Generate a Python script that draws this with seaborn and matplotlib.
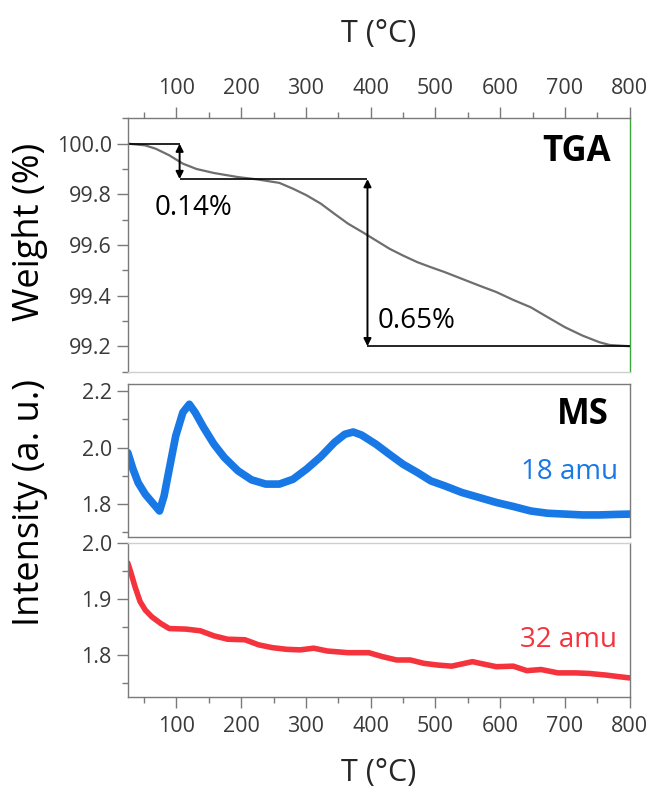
import numpy as np
import pandas as pd
import seaborn as sns
import matplotlib.pyplot as plt
from matplotlib.ticker import MultipleLocator

# TGA trace (temperature in °C, weight in %)
tga_temp = [25, 52, 68, 89, 110, 131, 158, 195, 227, 259, 280, 301, 323, 344, 365,
            387, 408, 429, 450, 472, 493, 514, 541, 567, 594, 620, 647, 673, 700,
            727, 753, 769, 800]
tga_weight = [100.0, 99.993, 99.98, 99.954, 99.921, 99.90, 99.884, 99.868, 99.858,
              99.845, 99.822, 99.796, 99.763, 99.723, 99.684, 99.651, 99.618, 99.585,
              99.558, 99.532, 99.512, 99.493, 99.466, 99.44, 99.414, 99.383, 99.354,
              99.315, 99.275, 99.242, 99.216, 99.205, 99.20]

# MS 18 amu
ms18_temp = [25, 33, 41, 52, 62, 74, 81, 89, 99, 110, 120, 129, 142, 158, 174, 195,
             216, 238, 259, 280, 301, 323, 344, 360, 373, 386, 408, 429, 450, 472,
             493, 514, 541, 567, 594, 620, 647, 673, 700, 727, 753, 780, 800]
ms18_int = [1.982, 1.924, 1.876, 1.835, 1.808, 1.776, 1.829, 1.924, 2.041, 2.124,
            2.153, 2.124, 2.071, 2.012, 1.965, 1.918, 1.886, 1.871, 1.871, 1.888,
            1.924, 1.968, 2.018, 2.047, 2.055, 2.044, 2.012, 1.976, 1.941, 1.912,
            1.882, 1.865, 1.841, 1.824, 1.806, 1.792, 1.776, 1.768, 1.765, 1.762,
            1.762, 1.764, 1.765]

# MS 32 amu
ms32_temp = [25, 30, 36, 44, 52, 62, 76, 89, 115, 137, 158, 179, 206, 227, 248, 270,
             291, 312, 333, 365, 397, 418, 440, 461, 482, 503, 525, 541, 557, 573,
             594, 620, 641, 663, 689, 716, 737, 764, 785, 800]
ms32_int = [1.964, 1.946, 1.922, 1.895, 1.880, 1.868, 1.856, 1.847, 1.846, 1.843,
            1.834, 1.828, 1.827, 1.818, 1.813, 1.810, 1.809, 1.812, 1.807, 1.804,
            1.804, 1.797, 1.791, 1.791, 1.785, 1.782, 1.780, 1.784, 1.788, 1.784,
            1.779, 1.780, 1.772, 1.774, 1.768, 1.768, 1.767, 1.764, 1.761, 1.759]

x_ticks = [100, 200, 300, 400, 500, 600, 700, 800]

sns.set_style("ticks")
plt.rcParams['font.family'] = ['Open Sans', 'DejaVu Sans']

GRID = "#7a7a7a"
LIGHT = "#cfcfcf"
TXT = "#3a3a3a"

fig = plt.figure(figsize=(6.52, 7.94), dpi=100)
L, W = 0.196, 0.770
ax_tga = fig.add_axes([L, 0.532, W, 0.319])
ax_18 = fig.add_axes([L, 0.324, W, 0.192])
ax_32 = fig.add_axes([L, 0.1225, W, 0.194])

tga = pd.DataFrame({"T": tga_temp, "w": tga_weight})
ms18 = pd.DataFrame({"T": ms18_temp, "i": ms18_int})
ms32 = pd.DataFrame({"T": ms32_temp, "i": ms32_int})

sns.lineplot(data=tga, x="T", y="w", ax=ax_tga, color="#6e6e6e", lw=1.6, sort=False)
sns.lineplot(data=ms18, x="T", y="i", ax=ax_18, color="#1778e6", lw=5.5, sort=False)
sns.lineplot(data=ms32, x="T", y="i", ax=ax_32, color="#f5333d", lw=4.0, sort=False)

for ax in (ax_tga, ax_18, ax_32):
    ax.set_xlim(25, 800)
    ax.set_xlabel("")
    ax.set_ylabel("")
    for s in ax.spines.values():
        s.set_color(GRID)
        s.set_linewidth(1.0)
    ax.tick_params(which="both", colors=GRID, labelcolor=TXT, labelsize=15.5, width=1.0)
    ax.tick_params(which="major", length=8)
    ax.tick_params(which="minor", length=4)

# --- TGA panel ---
ax_tga.set_ylim(99.1, 100.1)
ax_tga.set_yticks([99.2, 99.4, 99.6, 99.8, 100.0])
ax_tga.yaxis.set_minor_locator(MultipleLocator(0.1))
ax_tga.xaxis.tick_top()
ax_tga.set_xticks(x_ticks)
ax_tga.xaxis.set_minor_locator(MultipleLocator(50))
ax_tga.spines["right"].set_color("#3aa63a")
ax_tga.spines["bottom"].set_color(LIGHT)
ax_tga.tick_params(axis="x", which="both", bottom=False, top=True, pad=6)
ax_tga.set_xlabel("T (°C)", fontsize=22, labelpad=26)
ax_tga.xaxis.set_label_position("top")

# step annotations
ax_tga.hlines(100.0, 25, 105, color="black", lw=1.2)
ax_tga.hlines(99.86, 105, 395, color="black", lw=1.2)
ax_tga.hlines(99.2, 395, 800, color="black", lw=1.2)
arr = dict(arrowstyle="<|-|>", color="black", lw=1.4, mutation_scale=11, shrinkA=0, shrinkB=0)
ax_tga.annotate("", xy=(105, 99.86), xytext=(105, 100.0), arrowprops=arr)
ax_tga.annotate("", xy=(395, 99.2), xytext=(395, 99.86), arrowprops=arr)
ax_tga.text(66, 99.745, "0.14%", fontsize=20, va="center", ha="left", color="black")
ax_tga.text(410, 99.30, "0.65%", fontsize=20, va="center", ha="left", color="black")
ax_tga.text(0.963, 0.868, "TGA", transform=ax_tga.transAxes, fontsize=25,
            fontweight="bold", ha="right", va="center", color="black")

# --- MS 18 panel ---
ax_18.set_ylim(1.685, 2.2235)
ax_18.set_yticks([1.8, 2.0, 2.2])
ax_18.yaxis.set_minor_locator(MultipleLocator(0.1))
ax_18.tick_params(axis="x", which="both", bottom=False, labelbottom=False)
ax_18.text(0.959, 0.797, "MS", transform=ax_18.transAxes, fontsize=25,
           fontweight="bold", ha="right", va="center", color="black")
ax_18.text(0.977, 0.426, "18 amu", transform=ax_18.transAxes, fontsize=20,
           ha="right", va="center", color="#1778e6")

# --- MS 32 panel ---
ax_32.set_ylim(1.7255, 2.0)
ax_32.set_yticks([1.8, 1.9, 2.0])
ax_32.yaxis.set_minor_locator(MultipleLocator(0.05))
ax_32.set_xticks(x_ticks)
ax_32.xaxis.set_minor_locator(MultipleLocator(50))
ax_32.spines["top"].set_color(LIGHT)
ax_32.tick_params(axis="x", which="both", pad=6)
ax_32.set_xlabel("T (°C)", fontsize=22, labelpad=15)
ax_32.text(0.974, 0.368, "32 amu", transform=ax_32.transAxes, fontsize=20,
           ha="right", va="center", color="#f5333d")

fig.text(30 / 652, 1 - 232 / 794, "Weight (%)", rotation=90, fontsize=26,
         ha="center", va="center", color="black")
fig.text(30 / 652, 1 - 502 / 794, "Intensity (a. u.)", rotation=90, fontsize=26,
         ha="center", va="center", color="black")

fig.savefig("out.png", dpi=100)
